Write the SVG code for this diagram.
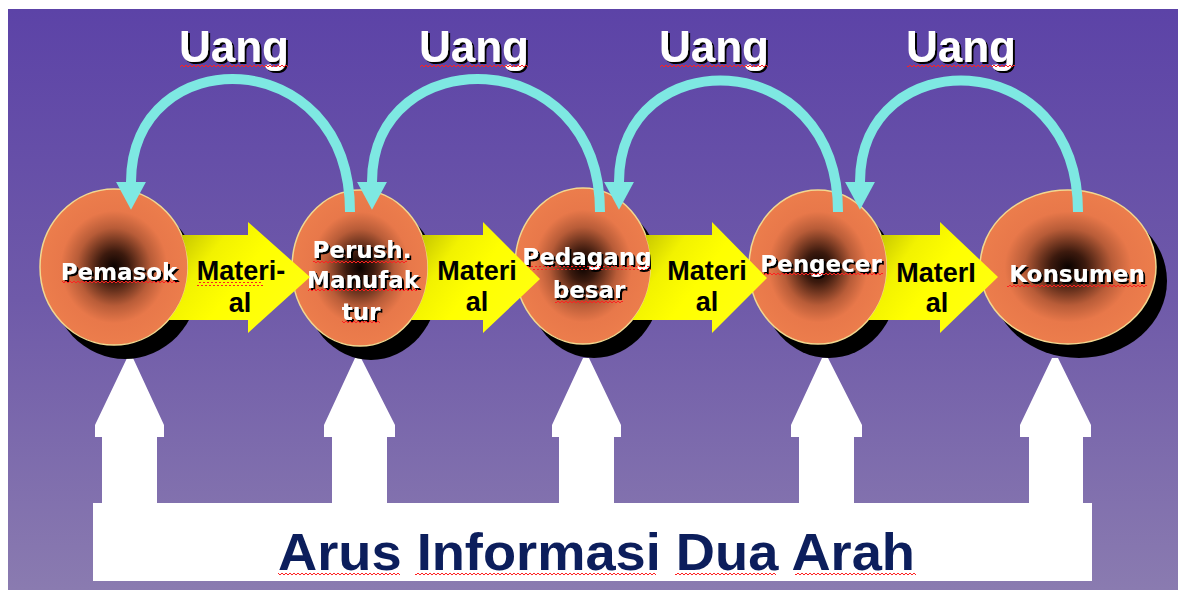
<svg xmlns="http://www.w3.org/2000/svg" width="1178" height="590" viewBox="0 0 1178 590">
<defs>
<linearGradient id="bg" x1="0" y1="0" x2="0" y2="1">
<stop offset="0" stop-color="#5c43a7"/>
<stop offset="0.5" stop-color="#6f5aa9"/>
<stop offset="1" stop-color="#8a7bb0"/>
</linearGradient>
<radialGradient id="ball" cx="0.5" cy="0.5" r="0.5">
<stop offset="0" stop-color="#0a0200"/>
<stop offset="0.2" stop-color="#3c1a0e"/>
<stop offset="0.5" stop-color="#b85c38"/>
<stop offset="0.72" stop-color="#e8784a"/>
<stop offset="1" stop-color="#ec7d4c"/>
</radialGradient>
<linearGradient id="yel" x1="0" y1="0" x2="1" y2="0.6">
<stop offset="0" stop-color="#b0b000"/>
<stop offset="0.35" stop-color="#f2f200"/>
<stop offset="0.6" stop-color="#ffff00"/>
<stop offset="1" stop-color="#ffff10"/>
</linearGradient>
<filter id="tsh" x="-10%" y="-20%" width="130%" height="150%">
<feDropShadow dx="2" dy="2" stdDeviation="0" flood-color="#000" flood-opacity="1"/>
</filter>
<marker id="ah" markerUnits="userSpaceOnUse" markerWidth="30" markerHeight="32" refX="0" refY="15" orient="auto" viewBox="0 0 28 30">
<path d="M0,1 L26,15 L0,29 Z" fill="#7ee8e2"/>
</marker>
<pattern id="wave" patternUnits="userSpaceOnUse" width="4" height="4">
<path d="M0,3 L2,1 L4,3" fill="none" stroke="#ff2020" stroke-width="1"/>
</pattern>
<style>
.shadow{fill:#000}
.ball{fill:url(#ball);stroke:#f2d890;stroke-width:1.5}
.lbl{font-family:"DejaVu Sans",sans-serif;font-weight:bold;font-size:23px;fill:#fff;text-anchor:middle;filter:url(#tsh)}
.mat{fill:url(#yel)}
.mtxt{font-family:"Liberation Sans",Arial,sans-serif;font-weight:bold;font-size:27px;fill:#000;text-anchor:middle}
.money{fill:none;stroke:#7ee8e2;stroke-width:10;marker-end:url(#ah)}
.uang{font-family:"Liberation Sans",Arial,sans-serif;font-weight:bold;font-size:44px;fill:#fff;text-anchor:middle;filter:url(#tsh)}
.wv{fill:url(#wave)}
.info{fill:#fff}
.itxt{font-family:"Liberation Sans",Arial,sans-serif;font-weight:bold;font-size:52px;fill:#0c1e5c}
</style>
</defs>
<rect x="0" y="0" width="1178" height="590" fill="#fff"/>
<rect x="8" y="9" width="1170" height="581" fill="url(#bg)"/>

<g id="info-flow">
<path class="info" d="M93,503 L102,503 L102,437 L95,437 L95,425 L127,358 L133,358 L164,425 L164,437 L157,437 L157,503 L332,503 L332,437 L324,437 L324,425 L355,358 L361,358 L395,425 L395,437 L387,437 L387,503 L559,503 L559,437 L552,437 L552,425 L583,358 L589,358 L621,425 L621,437 L614,437 L614,503 L799,503 L799,437 L791,437 L791,425 L822,358 L828,358 L862,425 L862,437 L854,437 L854,503 L1029,503 L1029,437 L1020,437 L1020,425 L1052,358 L1058,358 L1091,425 L1091,437 L1083,437 L1083,503 L1092,503 L1092,581 L93,581 Z"/>
<text class="itxt" x="278" y="570" textLength="637" lengthAdjust="spacingAndGlyphs">Arus Informasi Dua Arah</text>
<rect class="wv" x="278" y="572" width="122" height="4"/>
<rect class="wv" x="415" y="572" width="241" height="4"/>
<rect class="wv" x="675" y="572" width="101" height="4"/>
<rect class="wv" x="795" y="572" width="121" height="4"/>
</g>

<g id="shadows">
<ellipse class="shadow" cx="125" cy="281" rx="74" ry="78"/>
<ellipse class="shadow" cx="371" cy="282" rx="68" ry="78"/>
<ellipse class="shadow" cx="594" cy="280" rx="68" ry="78"/>
<ellipse class="shadow" cx="829" cy="281" rx="69" ry="77"/>
<ellipse class="shadow" cx="1079" cy="281" rx="88" ry="77"/>
</g>

<g id="node-pemasok">
<ellipse class="ball" cx="114" cy="267" rx="74" ry="78"/>
<text class="lbl" x="119" y="280">Pemasok</text>
<rect class="wv" x="62" y="281" width="115" height="4"/>
</g>
<g id="node-manufaktur">
<ellipse class="ball" cx="360" cy="268" rx="68" ry="78"/>
<text class="lbl" x="362" y="258">Perush.</text>
<text class="lbl" x="363" y="288">Manufak</text>
<text class="lbl" x="361" y="320">tur</text>
<rect class="wv" x="313" y="259" width="94" height="4"/>
<rect class="wv" x="308" y="289" width="110" height="4"/>
<rect class="wv" x="342" y="321" width="38" height="4"/>
</g>
<g id="node-pedagang">
<ellipse class="ball" cx="583" cy="266" rx="68" ry="78"/>
<text class="lbl" x="587" y="265">Pedagang</text>
<text class="lbl" x="589" y="298">besar</text>
<rect class="wv" x="523" y="266" width="128" height="4"/>
<rect class="wv" x="555" y="299" width="68" height="4"/>
</g>
<g id="node-pengecer">
<ellipse class="ball" cx="818" cy="267" rx="69" ry="77"/>
<text class="lbl" x="821" y="272">Pengecer</text>
<rect class="wv" x="760" y="273" width="123" height="4"/>
</g>
<g id="node-konsumen">
<ellipse class="ball" cx="1068" cy="267" rx="88" ry="77"/>
<text class="lbl" x="1077" y="282">Konsumen</text>
<rect class="wv" x="1007" y="283" width="140" height="4"/>
</g>

<g id="connectors">
<g id="material-flow">
<path class="mat" d="M181.5,235 L248,235 L248,222 L310,277 L248,333 L248,320 L168.3,320 A74,78 0 0 0 181.5,235 Z"/>
<path class="mat" d="M421.6,235 L483,235 L483,222 L540,279 L483,333 L483,320 L410.7,320 A68,78 0 0 0 421.6,235 Z"/>
<path class="mat" d="M645.4,235 L712,235 L712,222 L767,278 L712,333 L712,320 L632.1,320 A68,78 0 0 0 645.4,235 Z"/>
<path class="mat" d="M880.8,235 L940,235 L940,222 L998,277 L940,333 L940,320 L868.1,320 A69,77 0 0 0 880.8,235 Z"/>
<text class="mtxt" x="241" y="280">Materi-</text>
<text class="mtxt" x="240" y="312">al</text>
<rect class="wv" x="197" y="282" width="66" height="4"/>
<text class="mtxt" x="477" y="280">Materi</text>
<text class="mtxt" x="477" y="311">al</text>
<text class="mtxt" x="707" y="280">Materi</text>
<text class="mtxt" x="707" y="311">al</text>
<text class="mtxt" x="936" y="282">MaterI</text>
<text class="mtxt" x="937" y="312">al</text>
</g>
<g id="money-flow">
<path class="money" d="M350,212 C350,40 131,40 131,182"/>
<path class="money" d="M600,212 C600,40 372,40 372,182"/>
<path class="money" d="M838,212 C838,42 619,42 619,182"/>
<path class="money" d="M1078,212 C1078,42 860,42 860,182"/>
<text class="uang" x="234" y="62">Uang</text>
<text class="uang" x="474" y="62">Uang</text>
<text class="uang" x="714" y="62">Uang</text>
<text class="uang" x="961" y="62">Uang</text>
<rect class="wv" x="180" y="63" width="108" height="4"/>
<rect class="wv" x="420" y="63" width="108" height="4"/>
<rect class="wv" x="660" y="63" width="108" height="4"/>
<rect class="wv" x="907" y="63" width="108" height="4"/>
</g>
</g>
</svg>
